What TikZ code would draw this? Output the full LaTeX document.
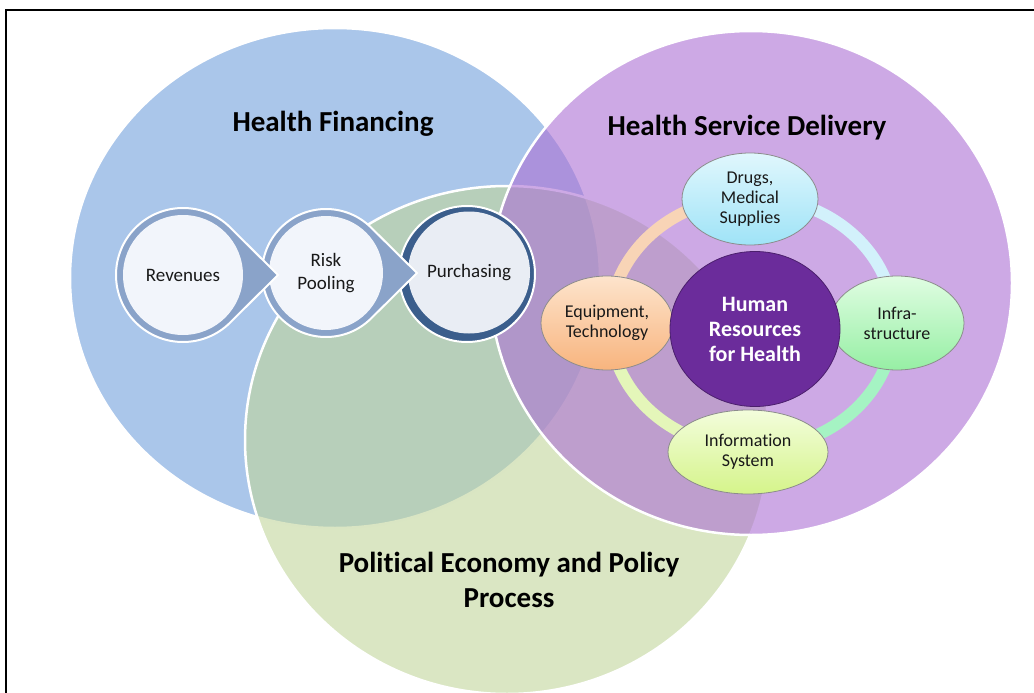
\documentclass[tikz,border=0pt]{standalone}
\usepackage{fontspec}
\setmainfont{Carlito}[Ligatures=NoCommon]
\usetikzlibrary{shapes.geometric}

\definecolor{finblue}{HTML}{AAC6EA}
\definecolor{polgreen}{HTML}{C1D59B}
\definecolor{hsdpurple}{HTML}{AC70D4}
\definecolor{stepring}{HTML}{8AA3C9}
\definecolor{stepfill}{HTML}{F2F5FB}
\definecolor{purring}{HTML}{3B5E8C}
\definecolor{purfill}{HTML}{E9EDF4}
\definecolor{hrpurple}{HTML}{6B2C9B}
\definecolor{ringpeach}{HTML}{F8D4B6}
\definecolor{ringcyan}{HTML}{D2F1FB}
\definecolor{ringmint}{HTML}{A5F3C3}
\definecolor{ringlime}{HTML}{E4F6B9}
\definecolor{drugtop}{HTML}{E0F7FD}
\definecolor{drugbot}{HTML}{9FE3F7}
\definecolor{equiptop}{HTML}{FDE4CC}
\definecolor{equipbot}{HTML}{F8B47E}
\definecolor{infratop}{HTML}{E0FDE2}
\definecolor{infrabot}{HTML}{96EFA4}
\definecolor{infotop}{HTML}{F3FDDC}
\definecolor{infobot}{HTML}{D5F48A}

\tikzset{
  region/.style={draw=white, line width=2.5pt},
  title/.style={font=\bfseries\fontsize{29}{35}\selectfont, align=center, text=black},
  stepdisc/.style={circle, inner sep=0pt, minimum size=#1, fill=stepfill,
    font=\fontsize{19}{23}\selectfont, align=center, text=black!90},
  part/.style={ellipse, draw=black!45, line width=0.8pt, inner sep=0pt, align=center,
    font=\fontsize{18}{20}\selectfont, text=black!90},
}

% pointed step: centre, radius, tip distance
\newcommand\stepshape[3]{%
  \fill[stepring, draw=white, line width=2pt] ([shift={(45:#2)}]#1)
    arc[start angle=45, end angle=315, radius=#2] -- ([shift={(0:#3)}]#1) -- cycle;}

\begin{document}
\begin{tikzpicture}[x=1pt, y=1pt]
\useasboundingbox (0,0) rectangle (1034,-693);

% frame
\draw[line width=1.8pt] (1034,-10) -| (6,-693);

% the three areas
\fill[finblue, region] (335,-278) ellipse [x radius=265, y radius=250];
\fill[polgreen, fill opacity=0.6, region] (507,-440) ellipse [x radius=262, y radius=254];
\fill[hsdpurple, fill opacity=0.6, region] (751,-283) ellipse [x radius=261, y radius=252];

\node[title] (hf)  at (333,-124) {Health Financing};
\node[title] (hsd) at (747,-128) {Health Service Delivery};
\node[title] (pep) at (509,-580) {Political Economy and Policy\\Process};

% financing steps
\coordinate (revc) at (183,-275);
\coordinate (riskc) at (326,-273);
\coordinate (purc) at (467,-274);

\fill[purring, draw=white, line width=2pt] (purc) circle [radius=68];
\node[stepdisc=122pt, fill=purfill] (pur) at ([shift={(2,1.5)}]purc) {Purchasing};

\stepshape{riskc}{64}{91}
\node[stepdisc=114pt] (risk) at (riskc) {Risk\\Pooling};

\stepshape{revc}{67}{95}
\node[stepdisc=120pt] (rev) at (revc) {Revenues};

% service delivery
\coordinate (ringc) at (752,-323);
\foreach \a/\col in {0/ringcyan, 90/ringpeach, 180/ringlime, 270/ringmint}
  \draw[\col, line width=12pt] ([shift={(\a:142 and 126)}]ringc)
    arc[start angle=\a, end angle=\a+90, x radius=142, y radius=126];

\node[part, minimum width=136pt, minimum height=92pt, top color=drugtop, bottom color=drugbot]
  (drug) at (750,-199) {Drugs,\\Medical\\Supplies};
\node[part, minimum width=132pt, minimum height=94pt, top color=equiptop, bottom color=equipbot]
  (equip) at (607,-323) {Equipment,\\Technology};
\node[part, minimum width=134pt, minimum height=94pt, top color=infratop, bottom color=infrabot]
  (infra) at (897,-323) {Infra-\\structure};
\node[part, minimum width=160pt, minimum height=84pt, top color=infotop, bottom color=infobot]
  (info) at (748,-452) {Information\\System};
\node[ellipse, fill=hrpurple, draw=hrpurple!70!black, line width=0.8pt, inner sep=0pt,
  minimum width=170pt, minimum height=155pt, align=center, text=white,
  font=\bfseries\fontsize{22}{25}\selectfont] (hr) at (755,-329) {Human\\Resources\\for Health};
\end{tikzpicture}
\end{document}
